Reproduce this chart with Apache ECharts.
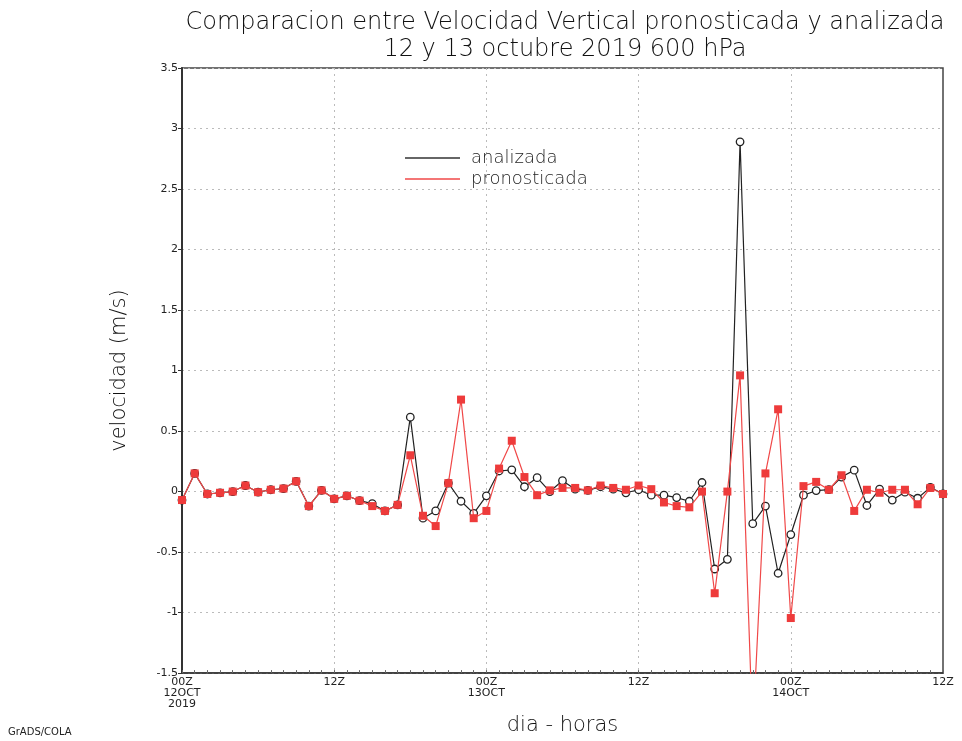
<!DOCTYPE html>
<html>
<head>
<meta charset="utf-8">
<script src="https://cdn.jsdelivr.net/npm/echarts@6/dist/echarts.min.js"></script>
<style>html,body{margin:0;padding:0;background:#fff}#c{width:962px;height:741px}</style>
</head>
<body>
<div id="c"></div>
<script>
// hourly categories 00Z 12OCT2019 .. 12Z 14OCT2019
var hours = [];
for (var h = 0; h <= 60; h++) hours.push(h);
var tickLabels = {0: '00Z\n12OCT\n2019', 12: '12Z', 24: '00Z\n13OCT', 36: '12Z', 48: '00Z\n14OCT', 60: '12Z'};

var analizada = [
  -0.07, 0.15, -0.02, -0.01, 0.0, 0.05, -0.005, 0.015, 0.025, 0.085,
  -0.12, 0.01, -0.06, -0.035, -0.075, -0.10, -0.16, -0.11, 0.615, -0.22,
  -0.16, 0.07, -0.08, -0.18, -0.035, 0.17, 0.18, 0.04, 0.115, 0.0,
  0.09, 0.02, 0.01, 0.04, 0.02, -0.01, 0.015, -0.03, -0.03, -0.05,
  -0.08, 0.075, -0.64, -0.56, 2.89, -0.265, -0.12, -0.675, -0.355, -0.03,
  0.008, 0.016, 0.12, 0.177, -0.115, 0.02, -0.07, -0.005, -0.055, 0.035,
  -0.02
];
var pronosticada = [
  -0.07, 0.15, -0.02, -0.01, 0.0, 0.05, -0.005, 0.015, 0.025, 0.085,
  -0.12, 0.01, -0.06, -0.035, -0.075, -0.12, -0.16, -0.11, 0.30, -0.20,
  -0.285, 0.07, 0.76, -0.22, -0.16, 0.19, 0.42, 0.12, -0.03, 0.01,
  0.03, 0.03, 0.01, 0.05, 0.03, 0.015, 0.05, 0.02, -0.09, -0.12,
  -0.13, 0.0, -0.84, 0.0, 0.96, -2.0, 0.15, 0.68, -1.045, 0.045,
  0.08, 0.015, 0.135, -0.16, 0.015, -0.01, 0.015, 0.015, -0.105, 0.03,
  -0.02
];

var chart = echarts.init(document.getElementById('c'));
var font = 'DejaVu Sans';
chart.setOption({
  animation: false,
  backgroundColor: '#fff',
  title: {
    text: 'Comparacion entre Velocidad Vertical pronosticada y analizada\n12 y 13 octubre 2019 600 hPa',
    left: 560, top: 4, textAlign: 'center',
    textStyle: {fontFamily: font, fontSize: 24, fontWeight: 'lighter', color: '#111', lineHeight: 27}
  },
  legend: {
    orient: 'vertical', left: 400, top: 144, itemGap: 3,
    itemWidth: 55, itemHeight: 1.5, icon: 'rect',
    textStyle: {fontFamily: font, fontSize: 18, fontWeight: 'lighter', color: '#222', padding: [0, 0, 0, 6]},
    data: [
      {name: 'analizada', itemStyle: {color: '#333', borderWidth: 0}},
      {name: 'pronosticada', itemStyle: {color: '#f04848', borderWidth: 0}}
    ]
  },
  grid: {left: 182, right: 19, top: 68, bottom: 64, show: true, borderColor: '#444', borderWidth: 1.5, backgroundColor: 'transparent'},
  xAxis: {
    type: 'category', data: hours, boundaryGap: false,
    axisLine: {onZero: false, lineStyle: {color: '#333', width: 1.5}},
    axisTick: {show: true, inside: true, length: 3, interval: 0, lineStyle: {color: '#666'}},
    axisLabel: {
      interval: 0, margin: 4, color: '#222', fontFamily: font, fontSize: 11, lineHeight: 11,
      formatter: function (v, i) { return tickLabels[i] || ''; }
    },
    splitLine: {show: true, interval: function (i) { return i % 12 === 0 && i !== 0 && i !== 60; }, lineStyle: {color: '#bbb', type: [2, 4], width: 1}},
    name: 'dia - horas', nameLocation: 'middle', nameGap: 32,
    nameTextStyle: {fontFamily: font, fontSize: 21, fontWeight: 'lighter', color: '#111'}
  },
  yAxis: {
    type: 'value', min: -1.5, max: 3.5, interval: 0.5,
    axisLine: {show: true, lineStyle: {color: '#333', width: 2}},
    axisTick: {show: true, length: 4, lineStyle: {color: '#333'}},
    axisLabel: {color: '#222', fontFamily: font, fontSize: 11, margin: 4},
    splitLine: {show: true, lineStyle: {color: '#bbb', type: [2, 4], width: 1}},
    name: 'velocidad (m/s)', nameLocation: 'middle', nameGap: 52, nameRotate: 90,
    nameTextStyle: {fontFamily: font, fontSize: 21, fontWeight: 'lighter', color: '#111'}
  },
  graphic: [{
    type: 'text', left: 8, top: 727,
    style: {text: 'GrADS/COLA', font: '10px "DejaVu Sans"', fill: '#222'}
  }],
  series: [{
    name: 'analizada', type: 'line', data: analizada,
    color: '#222',
    lineStyle: {color: '#222', width: 1.2},
    symbol: 'circle', symbolSize: 7.5, showAllSymbol: true,
    itemStyle: {color: '#fff', borderColor: '#222', borderWidth: 1.3},
    z: 2
  }, {
    name: 'pronosticada', type: 'line', data: pronosticada,
    color: '#ee3333',
    lineStyle: {color: '#f04848', width: 1.2},
    symbol: 'rect', symbolSize: 8, showAllSymbol: true,
    itemStyle: {color: '#ee3b3b', borderWidth: 0},
    z: 3
  }]
});
</script>
</body>
</html>
